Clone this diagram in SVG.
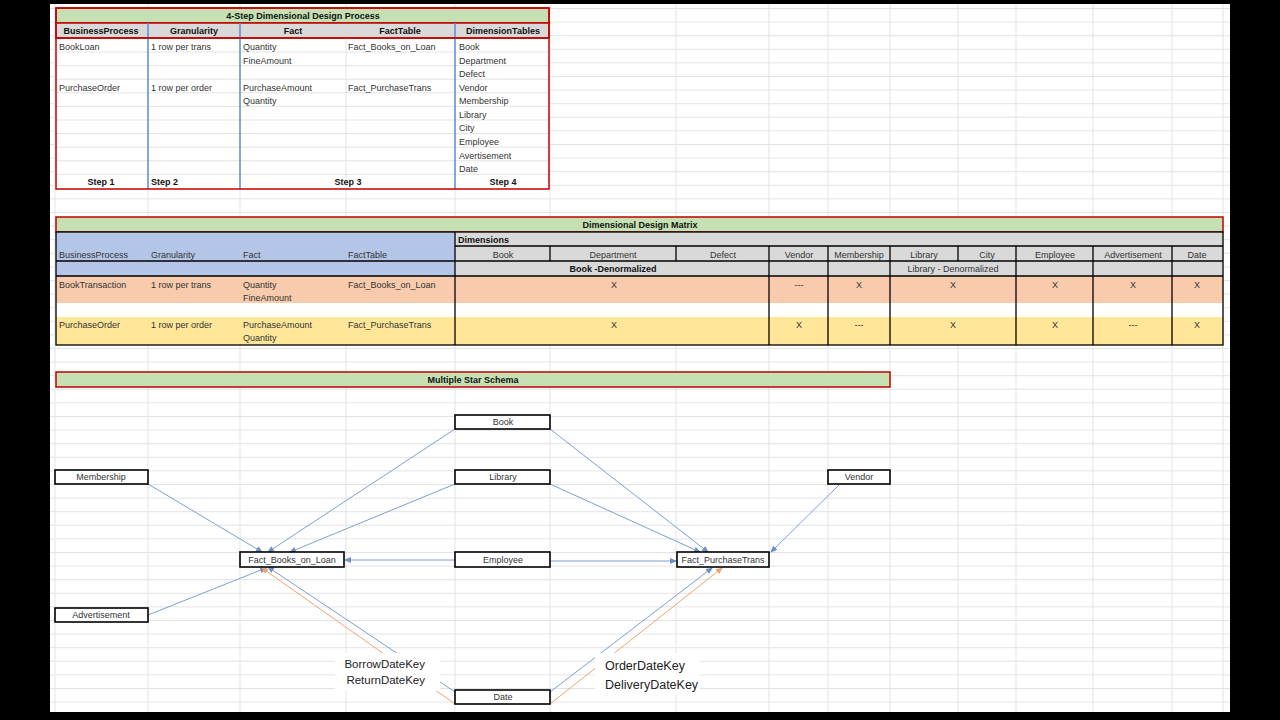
<svg xmlns="http://www.w3.org/2000/svg" width="1280" height="720" viewBox="0 0 1280 720">
<defs>
<pattern id="grid" x="0" y="8" width="1280" height="13.6" patternUnits="userSpaceOnUse"><line x1="0" y1="0.5" x2="1280" y2="0.5" stroke="#e3e3e3" stroke-width="1"/></pattern>
<marker id="ab" markerWidth="7" markerHeight="6" refX="6" refY="3" orient="auto" markerUnits="userSpaceOnUse"><path d="M0,0 L7,3 L0,6 z" fill="#6f8fc9"/></marker>
<marker id="ao" markerWidth="7" markerHeight="6" refX="6" refY="3" orient="auto" markerUnits="userSpaceOnUse"><path d="M0,0 L7,3 L0,6 z" fill="#f0a36c"/></marker>
</defs>
<style>
text{font-family:"Liberation Sans",Arial,sans-serif;font-size:9px;fill:#333}
.b{font-weight:bold;fill:#111}
.c{text-anchor:middle}
.n{fill:#fff;stroke:#000;stroke-width:1.6}
.ln{stroke:#7f9ed6;stroke-width:1;fill:none}
.lo{stroke:#f0a36c;stroke-width:1;fill:none}
.g{stroke:#e3e3e3;stroke-width:1}
.k{font-size:11.5px;fill:#222}
</style>
<rect width="1280" height="720" fill="#000"/>
<rect x="50" y="4" width="1180" height="712" fill="#fff"/>
<rect x="50" y="4" width="1180" height="712" fill="url(#grid)"/>
<g class="g">
<line x1="55" y1="4" x2="55" y2="716"/><line x1="148" y1="4" x2="148" y2="716"/><line x1="240" y1="4" x2="240" y2="716"/><line x1="346" y1="4" x2="346" y2="716"/><line x1="455" y1="4" x2="455" y2="716"/><line x1="550" y1="4" x2="550" y2="716"/><line x1="676" y1="4" x2="676" y2="716"/><line x1="769" y1="4" x2="769" y2="716"/><line x1="828" y1="4" x2="828" y2="716"/><line x1="890" y1="4" x2="890" y2="716"/><line x1="958" y1="4" x2="958" y2="716"/><line x1="1016" y1="4" x2="1016" y2="716"/><line x1="1093" y1="4" x2="1093" y2="716"/><line x1="1172" y1="4" x2="1172" y2="716"/><line x1="1223" y1="4" x2="1223" y2="716"/>
</g>

<g id="table1">
<rect x="55" y="7" width="495" height="182" fill="#fff"/>
<rect x="56" y="8" width="493" height="15" fill="#c6e0b4" stroke="#c00000" stroke-width="1.5"/>
<rect x="56" y="23" width="493" height="15" fill="#d9d9d9" stroke="#c00000" stroke-width="1.5"/>
<g class="g"><line x1="55" y1="52" x2="550" y2="52"/><line x1="55" y1="65.6" x2="550" y2="65.6"/><line x1="55" y1="79.2" x2="550" y2="79.2"/><line x1="55" y1="92.8" x2="550" y2="92.8"/><line x1="55" y1="106.4" x2="550" y2="106.4"/><line x1="55" y1="120" x2="550" y2="120"/><line x1="55" y1="133.6" x2="550" y2="133.6"/><line x1="55" y1="147.2" x2="550" y2="147.2"/><line x1="55" y1="160.8" x2="550" y2="160.8"/><line x1="55" y1="174.4" x2="550" y2="174.4"/><line x1="346" y1="38" x2="346" y2="189"/></g>
<g stroke="#5b8ad0" stroke-width="1.5"><line x1="148" y1="23" x2="148" y2="189"/><line x1="240" y1="23" x2="240" y2="189"/><line x1="455" y1="23" x2="455" y2="189"/></g>
<rect x="56" y="8" width="493" height="181" fill="none" stroke="#c00000" stroke-width="1.5"/>
<line x1="56" y1="38" x2="549" y2="38" stroke="#c00000" stroke-width="1.5"/>
<text x="303" y="19" class="b c">4-Step Dimensional Design Process</text>
<text x="101" y="34" class="b c">BusinessProcess</text><text x="194" y="34" class="b c">Granularity</text><text x="293" y="34" class="b c">Fact</text><text x="400" y="34" class="b c">FactTable</text><text x="503" y="34" class="b c">DimensionTables</text>
<text x="59" y="50">BookLoan</text><text x="151" y="50">1 row per trans</text><text x="243" y="50">Quantity</text><text x="348" y="50">Fact_Books_on_Loan</text>
<text x="243" y="64">FineAmount</text>
<text x="59" y="91">PurchaseOrder</text><text x="151" y="91">1 row per order</text><text x="243" y="91">PurchaseAmount</text><text x="348" y="91">Fact_PurchaseTrans</text>
<text x="243" y="104">Quantity</text>
<text x="459" y="50">Book</text><text x="459" y="64">Department</text><text x="459" y="77">Defect</text><text x="459" y="91">Vendor</text><text x="459" y="104">Membership</text><text x="459" y="118">Library</text><text x="459" y="131">City</text><text x="459" y="145">Employee</text><text x="459" y="159">Avertisement</text><text x="459" y="172">Date</text>
<text x="101" y="185" class="b c">Step 1</text><text x="151" y="185" class="b">Step 2</text><text x="348" y="185" class="b c">Step 3</text><text x="503" y="185" class="b c">Step 4</text>
</g>

<g id="table2">
<rect x="56" y="217" width="1167" height="15" fill="#c6e0b4" stroke="#c00000" stroke-width="1.5"/>
<rect x="56" y="232" width="399" height="44" fill="#b4c6e7"/>
<rect x="455" y="232" width="768" height="44" fill="#d9d9d9"/>
<rect x="56" y="276" width="1167" height="27" fill="#f8cbad"/>
<rect x="56" y="303" width="1167" height="14" fill="#fff"/>
<rect x="56" y="317" width="1167" height="28" fill="#ffe699"/>
<g stroke="#000" stroke-width="1.3" fill="none">
<rect x="56" y="232" width="1167" height="113"/>
<line x1="455" y1="232" x2="455" y2="345"/>
<line x1="455" y1="246" x2="1223" y2="246"/>
<line x1="56" y1="261" x2="1223" y2="261"/>
<line x1="56" y1="276" x2="1223" y2="276"/>
<line x1="550" y1="246" x2="550" y2="261"/><line x1="676" y1="246" x2="676" y2="261"/><line x1="958" y1="246" x2="958" y2="261"/>
<line x1="769" y1="246" x2="769" y2="345"/><line x1="828" y1="246" x2="828" y2="345"/><line x1="890" y1="246" x2="890" y2="345"/><line x1="1016" y1="246" x2="1016" y2="345"/><line x1="1093" y1="246" x2="1093" y2="345"/><line x1="1172" y1="246" x2="1172" y2="345"/>
</g>
<text x="640" y="228" class="b c">Dimensional Design Matrix</text>
<text x="458" y="243" class="b">Dimensions</text>
<text x="59" y="258">BusinessProcess</text><text x="151" y="258">Granularity</text><text x="243" y="258">Fact</text><text x="348" y="258">FactTable</text>
<text x="503" y="258" class="c">Book</text><text x="613" y="258" class="c">Department</text><text x="723" y="258" class="c">Defect</text><text x="799" y="258" class="c">Vendor</text><text x="859" y="258" class="c">Membership</text><text x="924" y="258" class="c">Library</text><text x="987" y="258" class="c">City</text><text x="1055" y="258" class="c">Employee</text><text x="1133" y="258" class="c">Advertisement</text><text x="1197" y="258" class="c">Date</text>
<text x="613" y="272" class="b c">Book -Denormalized</text><text x="953" y="272" class="c">Library - Denormalized</text>
<text x="59" y="288">BookTransaction</text><text x="151" y="288">1 row per trans</text><text x="243" y="288">Quantity</text><text x="243" y="301">FineAmount</text><text x="348" y="288">Fact_Books_on_Loan</text>
<text x="614" y="288" class="c">X</text><text x="799" y="288" class="c">---</text><text x="859" y="288" class="c">X</text><text x="953" y="288" class="c">X</text><text x="1055" y="288" class="c">X</text><text x="1133" y="288" class="c">X</text><text x="1197" y="288" class="c">X</text>
<text x="59" y="328">PurchaseOrder</text><text x="151" y="328">1 row per order</text><text x="243" y="328">PurchaseAmount</text><text x="243" y="341">Quantity</text><text x="348" y="328">Fact_PurchaseTrans</text>
<text x="614" y="328" class="c">X</text><text x="799" y="328" class="c">X</text><text x="859" y="328" class="c">---</text><text x="953" y="328" class="c">X</text><text x="1055" y="328" class="c">X</text><text x="1133" y="328" class="c">---</text><text x="1197" y="328" class="c">X</text>
</g>

<g id="star-title">
<rect x="56" y="372" width="834" height="15" fill="#c6e0b4" stroke="#c00000" stroke-width="1.5"/>
<text x="473" y="383" class="b c">Multiple Star Schema</text>
</g>

<g id="connectors">
<line class="ln" x1="455" y1="429" x2="268" y2="552" marker-end="url(#ab)"/>
<line class="ln" x1="550" y1="429" x2="708" y2="552" marker-end="url(#ab)"/>
<line class="ln" x1="148" y1="484" x2="262" y2="552" marker-end="url(#ab)"/>
<line class="ln" x1="455" y1="484" x2="290" y2="552" marker-end="url(#ab)"/>
<line class="ln" x1="550" y1="484" x2="700" y2="552" marker-end="url(#ab)"/>
<line class="ln" x1="840" y1="484" x2="771" y2="552" marker-end="url(#ab)"/>
<line class="ln" x1="455" y1="560" x2="345" y2="560" marker-end="url(#ab)"/>
<line class="ln" x1="550" y1="561" x2="676" y2="561" marker-end="url(#ab)"/>
<line class="ln" x1="148" y1="615" x2="266" y2="568" marker-end="url(#ab)"/>
<line class="ln" x1="455" y1="692" x2="268" y2="567" marker-end="url(#ab)"/>
<line class="lo" x1="455" y1="704" x2="262" y2="568" marker-end="url(#ao)"/>
<line class="ln" x1="550" y1="692" x2="712" y2="568" marker-end="url(#ab)"/>
<line class="lo" x1="550" y1="704" x2="722" y2="568" marker-end="url(#ao)"/>
</g>

<g id="labels">
<rect x="335" y="653" width="105" height="38" fill="#fff"/>
<text x="425" y="668" class="k" style="text-anchor:end">BorrowDateKey</text>
<text x="425" y="684" class="k" style="text-anchor:end">ReturnDateKey</text>
<rect x="595" y="653" width="105" height="42" fill="#fff"/>
<text x="605" y="670" class="k" style="font-size:12.5px">OrderDateKey</text>
<text x="605" y="689" class="k" style="font-size:12.5px">DeliveryDateKey</text>
</g>

<g id="n-book"><rect class="n" x="455" y="415" width="95" height="14"/><text x="503" y="425" class="c">Book</text></g>
<g id="n-membership"><rect class="n" x="55" y="470" width="93" height="14"/><text x="101" y="480" class="c">Membership</text></g>
<g id="n-library"><rect class="n" x="455" y="470" width="95" height="14"/><text x="503" y="480" class="c">Library</text></g>
<g id="n-vendor"><rect class="n" x="828" y="470" width="62" height="14"/><text x="859" y="480" class="c">Vendor</text></g>
<g id="n-factloan"><rect class="n" x="240" y="552" width="104" height="15"/><text x="292" y="563" class="c">Fact_Books_on_Loan</text></g>
<g id="n-employee"><rect class="n" x="455" y="552" width="95" height="15"/><text x="503" y="563" class="c">Employee</text></g>
<g id="n-factpurchase"><rect class="n" x="677" y="552" width="92" height="15"/><text x="723" y="563" class="c">Fact_PurchaseTrans</text></g>
<g id="n-advertisement"><rect class="n" x="55" y="608" width="93" height="14"/><text x="101" y="618" class="c">Advertisement</text></g>
<g id="n-date"><rect class="n" x="455" y="690" width="95" height="14"/><text x="503" y="700" class="c">Date</text></g>
<rect x="50" y="712" width="1180" height="8" fill="#000"/>
</svg>
